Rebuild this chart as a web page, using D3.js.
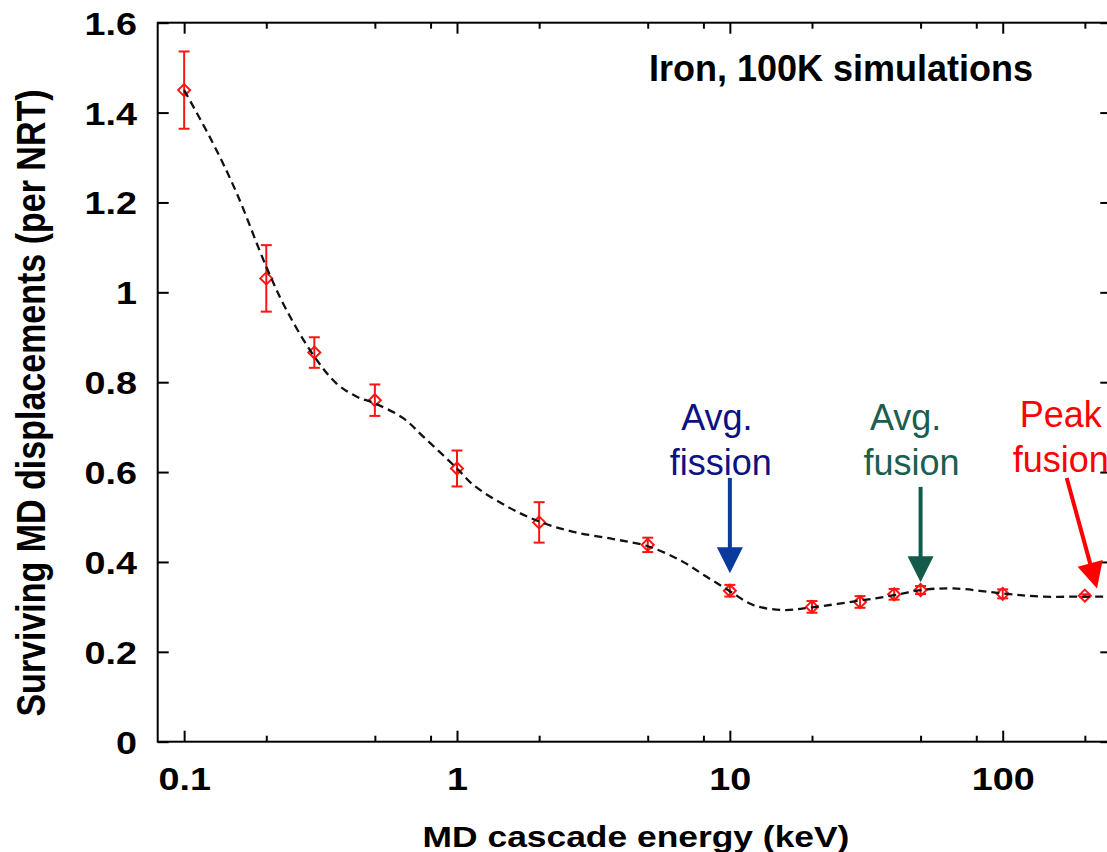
<!DOCTYPE html>
<html>
<head>
<meta charset="utf-8">
<script src="https://cdn.jsdelivr.net/npm/d3@7"></script>
<style>
  body { margin: 0; background: #fff; }
  svg { display: block; }
</style>
</head>
<body>
<svg id="chart" width="1107" height="852"></svg>
<script>
// MD cascade data (energy in keV, surviving displacements per NRT)
const energy = [0.1, 0.2, 0.3, 0.5, 1, 2, 5, 10, 20, 30, 40, 50, 100, 200];
const displacement = [1.45, 1.031, 0.866, 0.760, 0.608, 0.488, 0.438, 0.336, 0.300, 0.311, 0.328, 0.3375, 0.329, 0.325];
const errorBar = [0.086, 0.074, 0.034, 0.035, 0.040, 0.045, 0.016, 0.013, 0.013, 0.013, 0.012, 0.009, 0.010, 0.003];

// smooth fit curve
const fitEnergy = [0.1, 0.127, 0.156, 0.2, 0.237, 0.3, 0.362, 0.428, 0.5, 0.635, 0.752, 1, 1.15, 1.52, 2, 2.67, 3.74, 5, 6.56, 8.22, 10, 12.2, 15.7, 20, 30, 40, 50, 66, 100, 137, 200, 250];
const fitValue = [1.45, 1.334, 1.22, 1.057, 0.961, 0.857, 0.797, 0.768, 0.753, 0.720, 0.679, 0.608, 0.571, 0.524, 0.490, 0.467, 0.451, 0.435, 0.404, 0.367, 0.335, 0.304, 0.293, 0.299, 0.314, 0.326, 0.3375, 0.341, 0.330, 0.323, 0.323, 0.323];

const xMajorTicks = [0.1, 1, 10, 100];
const xMinorTicks = [0.2, 0.5, 0.8, 2, 5, 8, 20, 50, 80, 200];
const xTickLabels = ["0.1", "1", "10", "100"];
const yTicks = [0, 0.2, 0.4, 0.6, 0.8, 1, 1.2, 1.4, 1.6];
const yTickLabels = ["0", "0.2", "0.4", "0.6", "0.8", "1", "1.2", "1.4", "1.6"];

const annotationLines = [["Avg.", "fission"], ["Avg.", "fusion"], ["Peak", "fusion"]];
const annotationEnergy = [10, 50, 200];
const annotationTextColor = ["#0d1283", "#1b5e50", "#ff0000"];
const annotationArrowColor = ["#0a3a9c", "#135a4a", "#ff0000"];
const arrowTailEnergy = [10, 50, 171.6];
const arrowTailValue = [0.587, 0.567, 0.587];
const arrowTipEnergy = [10, 50, 221.6];
const arrowTipValue = [0.375, 0.355, 0.341];

const FONT = "'Liberation Sans', Arial, Helvetica, sans-serif";
const STRETCH = 1.18;   // the plot was stretched sideways

const margin = {top: 22.7, right: -4.3, bottom: 110.3, left: 157.7};
const width = 1107, height = 852;

const svg = d3.select("#chart");

const x = d3.scaleLog()
  .domain([0.08, 250])
  .range([margin.left, width - margin.right]);
const y = d3.scaleLinear()
  .domain([0, 1.6])
  .range([height - margin.bottom, margin.top]);

const styleAxis = (g) => {
  g.select(".domain").remove();
  g.selectAll(".tick line").attr("stroke", "#000").attr("stroke-width", 2);
};

// bottom axis with labels
const xAxisG = svg.append("g")
  .attr("transform", `translate(0, ${y(0)})`)
  .call(d3.axisBottom(x).tickValues(xMajorTicks).tickSize(-11).tickPadding(25.6)
    .tickFormat((d, i) => xTickLabels[i]))
  .call(styleAxis);
xAxisG.selectAll("text")
  .attr("font-family", FONT).attr("font-size", 32).attr("font-weight", "bold")
  .attr("fill", "#000")
  .attr("transform", `scale(${STRETCH},1)`);
svg.append("g")
  .attr("transform", `translate(0, ${y(0)})`)
  .call(d3.axisBottom(x).tickValues(xMinorTicks).tickSize(-6).tickFormat(""))
  .call(styleAxis);

// top axis, ticks only
svg.append("g")
  .attr("transform", `translate(0, ${y(1.6)})`)
  .call(d3.axisTop(x).tickValues(xMajorTicks).tickSize(-11).tickFormat(""))
  .call(styleAxis);
svg.append("g")
  .attr("transform", `translate(0, ${y(1.6)})`)
  .call(d3.axisTop(x).tickValues(xMinorTicks).tickSize(-6).tickFormat(""))
  .call(styleAxis);

// left axis with labels
const yAxisG = svg.append("g")
  .attr("transform", `translate(${x(0.08)}, 0)`)
  .call(d3.axisLeft(y).tickValues(yTicks).tickSize(-11).tickPadding(17.5)
    .tickFormat((d, i) => yTickLabels[i]))
  .call(styleAxis);
yAxisG.selectAll("text")
  .attr("font-family", FONT).attr("font-size", 32).attr("font-weight", "bold")
  .attr("fill", "#000").attr("dy", "0.36em")
  .attr("transform", `scale(${STRETCH},1)`);

// right axis, ticks only
svg.append("g")
  .attr("transform", `translate(${x(250)}, 0)`)
  .call(d3.axisRight(y).tickValues(yTicks).tickSize(-11).tickFormat(""))
  .call(styleAxis);

// frame
svg.append("rect")
  .attr("x", x(0.08)).attr("y", y(1.6))
  .attr("width", x(250) - x(0.08)).attr("height", y(0) - y(1.6))
  .attr("fill", "none").attr("stroke", "#000").attr("stroke-width", 2);

// error bars
const points = energy.map((e, i) => ({e, v: displacement[i], err: errorBar[i]}));
const bars = svg.append("g").attr("stroke", "#ff1414").attr("stroke-width", 2).attr("fill", "none");
points.forEach(p => {
  const cx = x(p.e), top = y(p.v + p.err), bot = y(p.v - p.err);
  bars.append("line").attr("x1", cx).attr("x2", cx).attr("y1", top).attr("y2", bot);
  bars.append("line").attr("x1", cx - 5.5).attr("x2", cx + 5.5).attr("y1", top).attr("y2", top);
  bars.append("line").attr("x1", cx - 5.5).attr("x2", cx + 5.5).attr("y1", bot).attr("y2", bot);
});

// diamond markers
svg.append("g").selectAll("path")
  .data(points)
  .join("path")
  .attr("d", d => {
    const cx = x(d.e), cy = y(d.v), r = 6;
    return `M${cx},${cy - r}L${cx + r},${cy}L${cx},${cy + r}L${cx - r},${cy}Z`;
  })
  .attr("fill", "none")
  .attr("stroke", "#ff1414")
  .attr("stroke-width", 2);

// dashed fit curve
const fit = fitEnergy.map((e, i) => [e, fitValue[i]]);
svg.append("path")
  .datum(fit)
  .attr("d", d3.line().x(d => x(d[0])).y(d => y(d[1])).curve(d3.curveCatmullRom))
  .attr("fill", "none")
  .attr("stroke", "#111")
  .attr("stroke-width", 2.3)
  .attr("stroke-dasharray", "8,5");

// axis titles
svg.append("text")
  .attr("transform", `translate(636, 846.7) scale(${STRETCH},1)`)
  .attr("text-anchor", "middle")
  .attr("font-family", FONT).attr("font-size", 30).attr("font-weight", "bold")
  .text("MD cascade energy (keV)");

svg.append("text")
  .attr("transform", `translate(45, 403) scale(1.2,1) rotate(-90)`)
  .attr("text-anchor", "middle")
  .attr("font-family", FONT).attr("font-size", 34).attr("font-weight", "bold")
  .text("Surviving MD displacements (per NRT)");

svg.append("text")
  .attr("x", 649).attr("y", 80.7)
  .attr("font-family", FONT).attr("font-size", 36).attr("font-weight", "bold")
  .text("Iron, 100K simulations");

// annotations
const textDx = [[-13, -9], [-15, -9], [-24, -24]];
const textBase = [430, 430, 427];
annotationLines.forEach((lines, i) => {
  const tx = x(annotationEnergy[i]);
  lines.forEach((t, j) => {
    svg.append("text")
      .attr("x", tx + textDx[i][j])
      .attr("y", textBase[i] + j * 44.5)
      .attr("text-anchor", "middle")
      .attr("font-family", FONT).attr("font-size", 36)
      .attr("fill", annotationTextColor[i])
      .text(t);
  });

  const x1 = x(arrowTailEnergy[i]), y1 = y(arrowTailValue[i]);
  const x2 = x(arrowTipEnergy[i]), y2 = y(arrowTipValue[i]);
  const len = Math.hypot(x2 - x1, y2 - y1);
  const ux = (x2 - x1) / len, uy = (y2 - y1) / len;
  const headL = 26, headW = 13;
  const bx = x2 - ux * headL, by = y2 - uy * headL;
  svg.append("line")
    .attr("x1", x1).attr("y1", y1).attr("x2", bx + ux).attr("y2", by + uy)
    .attr("stroke", annotationArrowColor[i]).attr("stroke-width", 4);
  svg.append("path")
    .attr("d", `M${x2},${y2}L${bx - uy * headW},${by + ux * headW}L${bx + uy * headW},${by - ux * headW}Z`)
    .attr("fill", annotationArrowColor[i]);
});
</script>
</body>
</html>
